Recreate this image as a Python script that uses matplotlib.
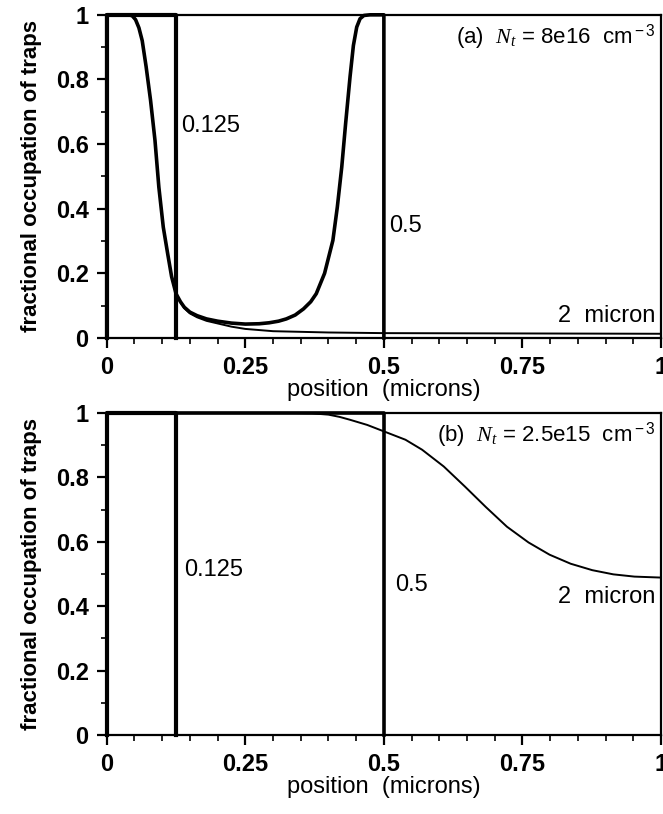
import matplotlib.pyplot as plt
from matplotlib.ticker import MultipleLocator

plt.rcParams['font.family'] = ['Liberation Sans', 'DejaVu Sans']
plt.rcParams['mathtext.fontset'] = 'custom'
plt.rcParams['mathtext.it'] = 'Liberation Serif:italic'
plt.rcParams['mathtext.rm'] = 'Liberation Sans'

# panel (a), Nt = 8e16
a_x_0125 = [0, 0, 0.125, 0.125]
a_y_0125 = [0, 1, 1, 0]
a_x_05 = [0, 0, 0.04, 0.046, 0.052, 0.058, 0.064, 0.071, 0.079, 0.087, 0.094, 0.102,
          0.11, 0.117, 0.125, 0.133, 0.14, 0.15, 0.163, 0.18, 0.2, 0.225, 0.25, 0.275,
          0.293, 0.31, 0.324, 0.34, 0.355, 0.368, 0.378, 0.393, 0.408, 0.416, 0.424,
          0.431, 0.439, 0.445, 0.451, 0.457, 0.464, 0.475, 0.5, 0.5]
a_y_05 = [0, 1, 1, 0.997, 0.985, 0.96, 0.92, 0.84, 0.736, 0.612, 0.467, 0.343,
          0.26, 0.19, 0.137, 0.112, 0.095, 0.08, 0.069, 0.059, 0.052, 0.046, 0.043, 0.044,
          0.047, 0.052, 0.059, 0.071, 0.09, 0.112, 0.137, 0.2, 0.302, 0.405, 0.529,
          0.664, 0.809, 0.905, 0.962, 0.988, 0.998, 1.0, 1.0, 0]
a_x_2 = [0, 0.04, 0.046, 0.052, 0.058, 0.064, 0.071, 0.079, 0.087, 0.094, 0.102, 0.11,
         0.117, 0.125, 0.133, 0.14, 0.15, 0.163, 0.18, 0.2, 0.225, 0.25, 0.3, 0.4,
         0.5, 0.75, 1.0]
a_y_2 = [1, 1, 0.997, 0.985, 0.96, 0.92, 0.84, 0.736, 0.612, 0.467, 0.343, 0.26,
         0.19, 0.137, 0.11, 0.092, 0.076, 0.064, 0.053, 0.045, 0.035, 0.028, 0.021, 0.017,
         0.015, 0.014, 0.013]

# panel (b), Nt = 2.5e15
b_x_0125 = [0, 0, 0.125, 0.125]
b_y_0125 = [0, 1, 1, 0]
b_x_05 = [0, 0, 0.5, 0.5]
b_y_05 = [0, 1, 1, 0]
b_x_2 = [0, 0.34, 0.37, 0.4, 0.42, 0.439, 0.47, 0.5, 0.539, 0.569, 0.608, 0.646,
         0.684, 0.722, 0.761, 0.799, 0.837, 0.876, 0.914, 0.952, 1.0]
b_y_2 = [1, 1.0, 0.999, 0.995, 0.988, 0.979, 0.963, 0.943, 0.917, 0.886, 0.834,
         0.772, 0.708, 0.647, 0.598, 0.56, 0.532, 0.512, 0.499, 0.492, 0.489]

fig = plt.figure(figsize=(6.63, 8.14), dpi=100)
ax_a = fig.add_axes([0.161, 0.5848, 0.836, 0.397])
ax_b = fig.add_axes([0.161, 0.097, 0.836, 0.3956])


def style(ax):
    ax.set_xlim(0, 1)
    ax.set_ylim(0, 1)
    ax.xaxis.set_minor_locator(MultipleLocator(0.05))
    ax.yaxis.set_minor_locator(MultipleLocator(0.1))
    ax.set_xticks([0, 0.25, 0.5, 0.75, 1])
    ax.set_xticklabels(['0', '0.25', '0.5', '0.75', '1'])
    ax.set_yticks([0, 0.2, 0.4, 0.6, 0.8, 1])
    ax.set_yticklabels(['0', '0.2', '0.4', '0.6', '0.8', '1'])
    ax.tick_params(which='major', direction='out', length=7, width=1.6,
                   labelsize=17, pad=6)
    ax.tick_params(which='minor', direction='out', length=4, width=1.2)
    for lab in ax.get_xticklabels() + ax.get_yticklabels():
        lab.set_fontweight('bold')
    for s in ax.spines.values():
        s.set_linewidth(1.6)
    ax.set_xlabel('position  (microns)', fontsize=17, labelpad=0)
    ax.set_ylabel('fractional occupation of traps', fontsize=16,
                  fontweight='bold', labelpad=10)


style(ax_a)
ax_a.plot(a_x_2, a_y_2, color='black', lw=1.4, solid_joinstyle='round')
ax_a.plot(a_x_05, a_y_05, color='black', lw=2.6, solid_joinstyle='round')
ax_a.plot(a_x_0125, a_y_0125, color='black', lw=3.0, solid_joinstyle='round')
ax_a.text(0.135, 0.655, '0.125', fontsize=17, va='center')
ax_a.text(0.51, 0.345, '0.5', fontsize=17, va='center')
ax_a.text(0.99, 0.068, '2  micron', fontsize=17, va='center', ha='right')
ax_a.text(0.99, 0.93, r'(a)  $N_t$ = 8e16  cm$^{\rm -3}$', fontsize=16,
          va='center', ha='right')

style(ax_b)
ax_b.plot(b_x_2, b_y_2, color='black', lw=1.4, solid_joinstyle='round')
ax_b.plot(b_x_05, b_y_05, color='black', lw=2.6, solid_joinstyle='round')
ax_b.plot(b_x_0125, b_y_0125, color='black', lw=3.0, solid_joinstyle='round')
ax_b.text(0.14, 0.512, '0.125', fontsize=17, va='center')
ax_b.text(0.52, 0.465, '0.5', fontsize=17, va='center')
ax_b.text(0.99, 0.43, '2  micron', fontsize=17, va='center', ha='right')
ax_b.text(0.99, 0.93, r'(b)  $N_t$ = 2.5e15  cm$^{\rm -3}$', fontsize=16,
          va='center', ha='right')

for ax in (ax_a, ax_b):
    for line in ax.get_lines():
        line.set_clip_on(False)

fig.savefig('out.png', dpi=100)
